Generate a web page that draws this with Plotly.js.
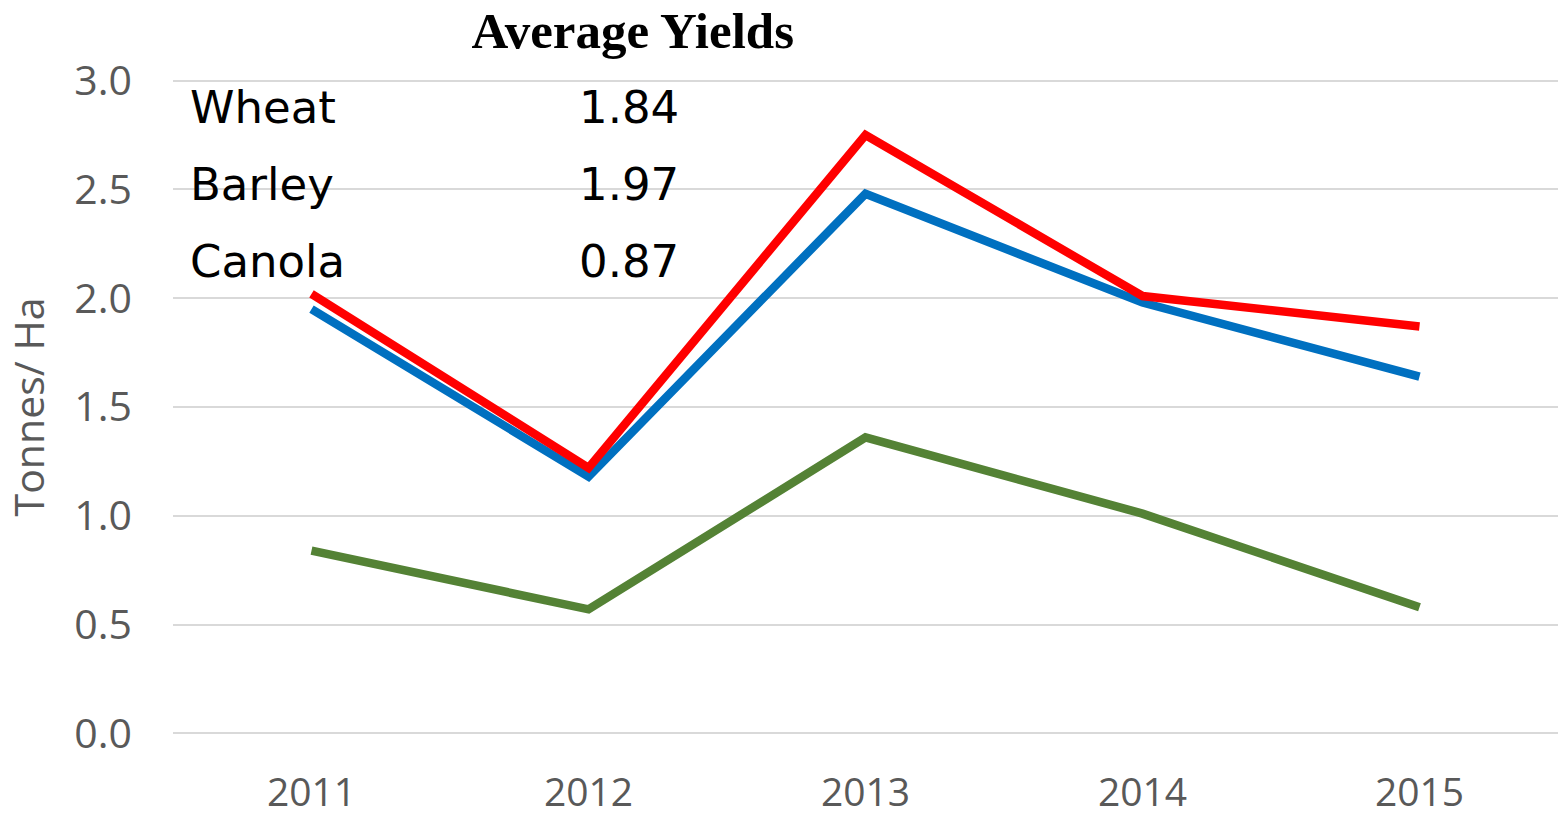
<!DOCTYPE html>
<html>
<head>
<meta charset="utf-8">
<script src="https://cdn.plot.ly/plotly-3.0.1.min.js"></script>
<style>
  html, body { margin: 0; padding: 0; background: #fff; }
  #chart { width: 1561px; height: 816px; }
</style>
</head>
<body>
<div id="chart"></div>
<script>
// years on the x axis
var years = ['2011', '2012', '2013', '2014', '2015'];

// yields in tonnes per hectare
var wheat = [1.95, 1.18, 2.48, 1.98, 1.64];
var barley = [2.02, 1.22, 2.75, 2.01, 1.87];
var canola = [0.84, 0.57, 1.36, 1.01, 0.58];

// table of averages shown in the top left
var avgNames = ['Wheat', 'Barley', 'Canola'];
var avgValues = ['1.84', '1.97', '0.87'];

var yTicks = [0, 0.5, 1, 1.5, 2, 2.5, 3];
var yTickText = ['0.0', '0.5', '1.0', '1.5', '2.0', '2.5', '3.0'];

var tickFont = "'Open Sans', sans-serif";

function makeTrace(vals, name, color) {
    return {
        x: years,
        y: vals,
        type: 'scatter',
        mode: 'lines',
        name: name,
        line: { color: color, width: 8.5 },
        hoverinfo: 'skip'
    };
}

var traces = [
    makeTrace(canola, 'Canola', '#548235'),
    makeTrace(wheat, 'Wheat', '#0070C0'),
    makeTrace(barley, 'Barley', '#FF0000')
];

// the little averages table, rows 77px apart
var annotations = [];
avgNames.forEach(function(nm, i) {
    annotations.push({
        xref: 'paper', yref: 'paper',
        x: 0.011, y: 0.955 - i * 0.117,
        xanchor: 'left', yanchor: 'middle',
        text: nm, showarrow: false,
        font: { family: "'DejaVu Sans', sans-serif", size: 45, color: '#000' }
    });
    annotations.push({
        xref: 'paper', yref: 'paper',
        x: 0.367, y: 0.955 - i * 0.117,
        xanchor: 'right', yanchor: 'middle',
        text: avgValues[i], showarrow: false,
        font: { family: "'DejaVu Sans', sans-serif", size: 45, color: '#000' }
    });
});

var layout = {
    width: 1561,
    height: 816,
    paper_bgcolor: '#fff',
    plot_bgcolor: '#fff',
    showlegend: false,
    title: {
        text: '<b>Average Yields</b>',
        font: { family: "'Liberation Serif', 'DejaVu Serif', serif", size: 51, color: '#000' },
        xref: 'paper',
        x: 0.332,
        xanchor: 'center',
        yref: 'container',
        y: 0.963,
        yanchor: 'middle'
    },
    xaxis: {
        type: 'category',
        range: [-0.5, 4.5],
        showgrid: false,
        zeroline: false,
        showline: false,
        ticks: '',
        ticklabelstandoff: 30,
        tickfont: { family: tickFont, size: 39, color: '#595959' }
    },
    yaxis: {
        // a little past 0 and 3 so plotly keeps the edge gridlines
        range: [-0.012, 3.012],
        tickvals: yTicks,
        ticktext: yTickText,
        showgrid: true,
        gridcolor: '#d9d9d9',
        gridwidth: 2,
        zeroline: false,
        showline: false,
        ticks: '',
        ticklabelstandoff: 40,
        tickfont: { family: tickFont, size: 41, color: '#595959' },
        title: {
            text: 'Tonnes/ Ha',
            font: { family: tickFont, size: 41, color: '#595959' },
            standoff: 18
        }
    },
    annotations: annotations,
    margin: { l: 173, r: 3, t: 78, b: 80 }
};

Plotly.newPlot('chart', traces, layout, { displayModeBar: false, staticPlot: true });
</script>
</body>
</html>
